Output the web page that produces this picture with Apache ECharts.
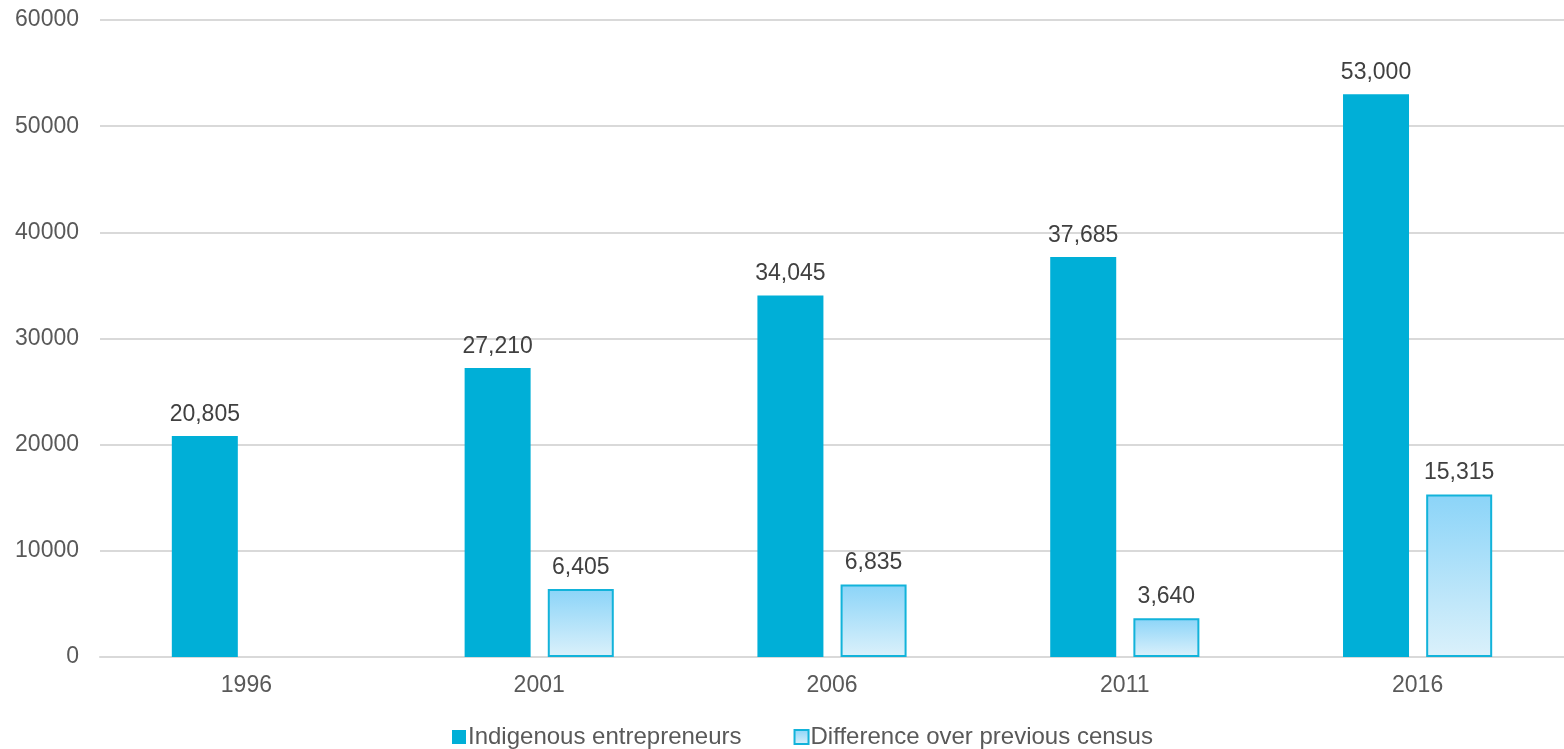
<!DOCTYPE html>
<html>
<head>
<meta charset="utf-8">
<script src="https://cdn.jsdelivr.net/npm/echarts@6/dist/echarts.min.js"></script>
<style>
  html, body { margin: 0; padding: 0; background: #fff; }
  #chart { width: 1564px; height: 749px; }
</style>
</head>
<body>
<div id="chart"></div>
<script>
const years = ['1996', '2001', '2006', '2011', '2016']
const entrepreneurs = [20805, 27210, 34045, 37685, 53000]
const difference = [null, 6405, 6835, 3640, 15315]

const chart = echarts.init(document.getElementById('chart'))

// data labels with thousands separator
const fmt = (p) => p.value.toLocaleString('en-US')

chart.setOption({
  animation: false,
  textStyle: { fontFamily: 'Liberation Sans, Arial, sans-serif' },
  grid: { left: 100, right: 0, top: 20, bottom: 92 },
  legend: {
    top: 720,
    left: 447,
    icon: 'rect',
    itemWidth: 14,
    itemHeight: 14,
    itemGap: 52,
    textStyle: { fontSize: 24, color: '#595959', padding: [0, 0, 0, -3] },
    data: ['Indigenous entrepreneurs', 'Difference over previous census']
  },
  xAxis: {
    type: 'category',
    data: years,
    axisTick: { show: false },
    axisLine: { lineStyle: { color: '#d9d9d9', width: 2 } },
    axisLabel: { color: '#595959', fontSize: 23, margin: 17 }
  },
  yAxis: {
    type: 'value',
    min: 0,
    max: 60000,
    interval: 10000,
    axisLabel: { color: '#595959', fontSize: 23, margin: 21, formatter: (v) => String(v) },
    splitLine: { lineStyle: { color: '#d9d9d9', width: 2 } }
  },
  series: [
    {
      name: 'Indigenous entrepreneurs',
      type: 'bar',
      data: entrepreneurs,
      barWidth: 66,
      barGap: '26%',
      itemStyle: { color: '#00afd7' },
      label: {
        show: true,
        position: 'top',
        distance: 10,
        fontSize: 23,
        color: '#404040',
        formatter: fmt
      }
    },
    {
      name: 'Difference over previous census',
      type: 'bar',
      data: difference,
      barWidth: 66,
      itemStyle: {
        color: new echarts.graphic.LinearGradient(0, 0, 0, 1, [
          { offset: 0, color: '#8bd4f8' },
          { offset: 1, color: '#dbf1fb' }
        ]),
        borderColor: '#12b3da',
        borderWidth: 2
      },
      label: {
        show: true,
        position: 'top',
        distance: 10,
        fontSize: 23,
        color: '#404040',
        formatter: fmt
      }
    }
  ]
})
</script>
</body>
</html>
